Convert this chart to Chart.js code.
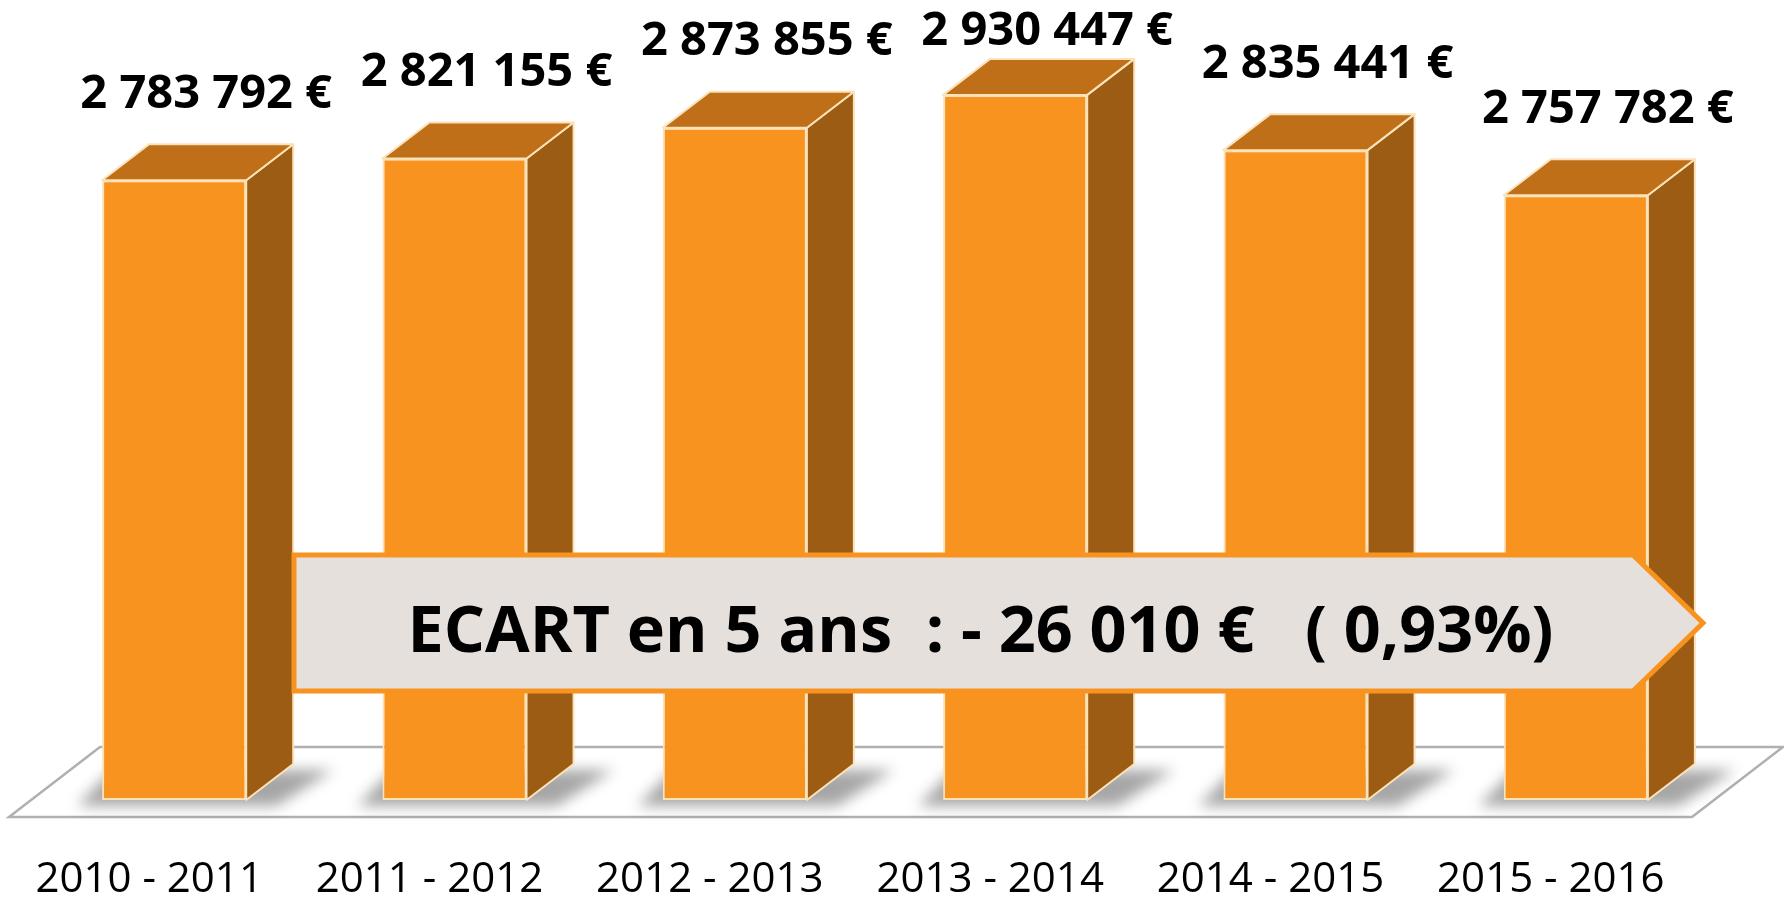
<!DOCTYPE html>
<html>
<head>
<meta charset="utf-8">
<script src="https://cdn.jsdelivr.net/npm/chart.js@4/dist/chart.umd.min.js"></script>
<style>
  body { margin: 0; background: #fff; }
  canvas { display: block; }
</style>
</head>
<body>
<canvas id="chart" width="1784" height="899"></canvas>
<script>
// data
const periodes = ['2010 - 2011', '2011 - 2012', '2012 - 2013', '2013 - 2014', '2014 - 2015', '2015 - 2016'];
const montants = [2783792, 2821155, 2873855, 2930447, 2835441, 2757782];
const echelle = [1717700, 3093700]; // y axis min / max (not shown)

const depthX = 47, depthY = 36;
const orange = '#F7931E', top3d = '#BE6F17', side3d = '#9C5C13', edge = '#FCE2B8';

function fmt(v) {
  return String(v).replace(/\B(?=(\d{3})+(?!\d))/g, ' ');
}

function poly(ctx, pts, fill, stroke) {
  ctx.beginPath();
  ctx.moveTo(pts[0][0], pts[0][1]);
  for (let i = 1; i < pts.length; i++) ctx.lineTo(pts[i][0], pts[i][1]);
  ctx.closePath();
  ctx.fillStyle = fill;
  ctx.fill();
  if (stroke) {
    ctx.strokeStyle = stroke;
    ctx.lineWidth = 2;
    ctx.stroke();
  }
}

const deco3d = {
  id: 'deco3d',
  beforeDatasetsDraw(chart) {
    const { ctx, chartArea: a } = chart;
    const fy = a.bottom + 17, by = a.bottom - 53;
    ctx.save();
    // floor
    ctx.beginPath();
    ctx.moveTo(a.left - 25, fy);
    ctx.lineTo(a.right - 24, fy);
    ctx.lineTo(a.right + 67, by);
    ctx.lineTo(a.left + 66, by);
    ctx.closePath();
    ctx.fillStyle = '#fff';
    ctx.fill();
    ctx.strokeStyle = '#b0b0b0';
    ctx.lineWidth = 2.5;
    ctx.stroke();
    // soft shadows on the floor
    ctx.filter = 'blur(7px)';
    chart.getDatasetMeta(0).data.forEach(bar => {
      const l = bar.x - bar.width / 2, r = bar.x + bar.width / 2;
      poly(ctx, [[l - 25, bar.base + 6], [r + 30, bar.base + 6], [r + depthX + 40, bar.base - 30], [l + 10, bar.base - 30]], 'rgba(0,0,0,0.35)');
    });
    ctx.restore();
  },
  afterDatasetsDraw(chart) {
    const { ctx } = chart;
    ctx.save();
    ctx.lineJoin = 'round';
    chart.getDatasetMeta(0).data.forEach(bar => {
      const l = bar.x - bar.width / 2, r = bar.x + bar.width / 2;
      poly(ctx, [[r, bar.y], [r + depthX, bar.y - depthY], [r + depthX, bar.base - depthY], [r, bar.base]], side3d, edge);
      poly(ctx, [[l, bar.y], [l + depthX, bar.y - depthY], [r + depthX, bar.y - depthY], [r, bar.y]], top3d, edge);
    });
    ctx.restore();
  },
  afterDraw(chart) {
    const { ctx, chartArea: a } = chart;
    ctx.save();
    // value labels
    ctx.fillStyle = '#000';
    ctx.font = 'bold 47px "Open Sans"';
    ctx.textAlign = 'center';
    ctx.textBaseline = 'middle';
    chart.getDatasetMeta(0).data.forEach((bar, i) => {
      const y = Math.max(32, bar.y - depthY - 50);
      ctx.fillText(fmt(montants[i]) + ' €', bar.x + 32, y);
    });

    // arrow banner
    const bl = a.left + 260, br = a.right - 83, tip = a.right - 13;
    const bt = a.bottom - 245, bb = a.bottom - 109, bm = (bt + bb) / 2;
    ctx.beginPath();
    ctx.moveTo(bl, bt);
    ctx.lineTo(br, bt);
    ctx.lineTo(tip, bm);
    ctx.lineTo(br, bb);
    ctx.lineTo(bl, bb);
    ctx.closePath();
    ctx.fillStyle = '#E6E0DD';
    ctx.fill();
    ctx.lineWidth = 5;
    ctx.strokeStyle = orange;
    ctx.stroke();

    const first = montants[0], last = montants[montants.length - 1];
    const ecart = last - first;
    const pct = (Math.abs(ecart) / first * 100).toFixed(2).replace('.', ',');
    const txt = 'ECART en 5 ans  : ' + (ecart < 0 ? '- ' : '') + fmt(Math.abs(ecart)) + ' €   ( ' + pct + '%)';
    ctx.font = 'bold 65px "Open Sans"';
    ctx.textAlign = 'center';
    ctx.textBaseline = 'alphabetic';
    const w = ctx.measureText(txt).width, target = 1146;
    const cx = (bl + br) / 2 + 17;
    ctx.translate(cx, bm + 29);
    if (w > target) ctx.scale(target / w, 1);
    ctx.fillStyle = '#000';
    ctx.fillText(txt, 0, 0);
    ctx.restore();
  }
};

new Chart(document.getElementById('chart'), {
  type: 'bar',
  data: {
    labels: periodes,
    datasets: [{
      data: montants,
      base: echelle[0],
      backgroundColor: orange,
      borderColor: edge,
      borderWidth: 2,
      borderSkipped: false,
      categoryPercentage: 1,
      barPercentage: 0.514
    }]
  },
  options: {
    responsive: false,
    animation: false,
    layout: { padding: { left: 34, right: 68, top: 0, bottom: 0 } },
    plugins: {
      legend: { display: false },
      tooltip: { enabled: false }
    },
    scales: {
      x: {
        grid: { display: false, drawTicks: false },
        border: { display: false },
        ticks: {
          color: '#000',
          font: { family: 'Open Sans', size: 42 },
          padding: 55,
          labelOffset: -25,
          maxRotation: 0,
          autoSkip: false
        },
        afterFit: s => { s.height = 99; }
      },
      y: {
        display: false,
        beginAtZero: false,
        min: echelle[0],
        max: echelle[1]
      }
    }
  },
  plugins: [deco3d]
});
</script>
</body>
</html>
